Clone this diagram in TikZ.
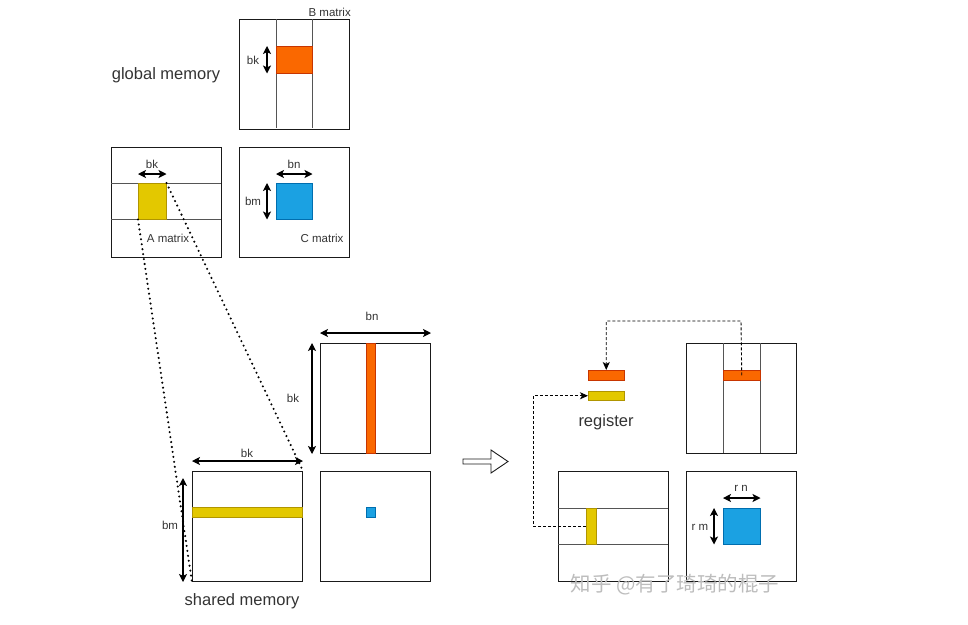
\documentclass[tikz,border=0pt]{standalone}
\usepackage{fontspec}
\setmainfont{Liberation Sans}
\newfontfamily\cjk{Noto Sans CJK SC}
\usepackage{xcolor}
\usepackage{tikz}
\usetikzlibrary{calc,arrows.meta}
\definecolor{line}{HTML}{1A1A1A}
\definecolor{inner}{HTML}{555555}
\definecolor{txt}{HTML}{333333}
\definecolor{orng}{HTML}{FA6800}
\definecolor{orngb}{HTML}{C73500}
\definecolor{yell}{HTML}{E3C800}
\definecolor{yellb}{HTML}{B09500}
\definecolor{blu}{HTML}{1BA1E2}
\definecolor{blub}{HTML}{006EAF}
\definecolor{wm}{HTML}{BDBDBD}
\tikzset{
  mat/.style={draw=line, line width=1pt, minimum width=110pt, minimum height=110pt, inner sep=0pt, anchor=north west},
  sep/.style={draw=inner, line width=1pt},
  orstrip/.style={draw=orngb, fill=orng, line width=0.5pt, inner sep=0pt, anchor=north west},
  yestrip/.style={draw=yellb, fill=yell, line width=0.5pt, inner sep=0pt, anchor=north west},
  blstrip/.style={draw=blub, fill=blu, line width=0.5pt, inner sep=0pt, anchor=north west},
  dim/.style={draw=black, line width=1.1pt, {Stealth[length=8pt,width=8pt,inset=2pt]}-{Stealth[length=8pt,width=8pt,inset=2pt]}},
  dotline/.style={draw=black, line width=2.3pt, line cap=round, dash pattern=on 0pt off 5pt},
  dashl/.style={draw=black, line width=0.9pt, dash pattern=on 3pt off 2pt, -{Stealth[length=8pt,width=7pt,inset=2pt]}},
  lab/.style={text=txt, font=\fontsize{11.5}{12}\selectfont, inner sep=1pt},
  big/.style={text=txt, font=\fontsize{16.5}{18}\selectfont, inner sep=1pt}
}
\begin{document}
\begin{tikzpicture}[x=1pt,y=-1pt]
  \useasboundingbox (0,0) rectangle (968,624);
  % global memory
  \node[big] (glob) at (166,75) {global memory};
  \node[mat] (gB) at (239,19) {};
  \draw[sep] (276,19) -- (276,128);
  \draw[sep] (312,19) -- (312,128);
  \node[orstrip, minimum width=36pt, minimum height=27pt] (gBo) at (276,46) {};
  \node[lab, anchor=south east] (gBl) at ([xshift=2pt,yshift=1pt]gB.north east) {B matrix};
  \draw[dim] ([xshift=-9pt]gBo.north west) -- ([xshift=-9pt]gBo.south west);
  \node[lab] at (253,60) {bk};

  \node[mat] (gA) at (111,147) {};
  \draw[sep] (111,183) -- (221,183);
  \draw[sep] (111,219) -- (221,219);
  \node[yestrip, minimum width=28pt, minimum height=36pt] (gAy) at (138,183) {};
  \draw[dim] ([yshift=9pt]gAy.north west) -- ([yshift=9pt]gAy.north east);
  \node[lab] at (152,164) {bk};
  \node[lab] at (168,238) {A matrix};

  \node[mat] (gC) at (239,147) {};
  \node[blstrip, minimum width=36pt, minimum height=36pt] (gCb) at (276,183) {};
  \draw[dim] ([yshift=9pt]gCb.north west) -- ([yshift=9pt]gCb.north east);
  \draw[dim] ([xshift=-9pt]gCb.north west) -- ([xshift=-9pt]gCb.south west);
  \node[lab] at (294,164) {bn};
  \node[lab] at (253,201) {bm};
  \node[lab] at (322,238) {C matrix};

  % shared memory
  \node[mat] (sB) at (320,343) {};
  \node[orstrip, minimum width=9pt, minimum height=110pt] (sBo) at (366,343) {};
  \draw[dim] ([yshift=10pt]sB.north west) -- ([yshift=10pt]sB.north east);
  \draw[dim] ([xshift=-8pt]sB.north west) -- ([xshift=-8pt]sB.south west);
  \node[lab] at (372,316) {bn};
  \node[lab] at (293,398) {bk};

  \node[mat] (sA) at (192,471) {};
  \node[yestrip, minimum width=110pt, minimum height=10pt] (sAy) at (192,507) {};
  \draw[dim] ([yshift=10pt]sA.north west) -- ([yshift=10pt]sA.north east);
  \draw[dim] ([xshift=-9pt,yshift=-7pt]sA.north west) -- ([xshift=-9pt]sA.south west);
  \node[lab] at (247,453) {bk};
  \node[lab] at (170,525) {bm};

  \node[mat] (sC) at (320,471) {};
  \node[blstrip, minimum width=9pt, minimum height=10pt] (sCb) at (366,507) {};
  \node[big] (shm) at (242,601) {shared memory};

  % dotted projection
  \draw[dotline] (gAy.south west) -- (sA.south west);
  \draw[dotline] (gAy.north east) -- (sA.north east);

  % hollow arrow
  \draw[draw=line, line width=0.9pt, fill=white] (463,459) -- (491,459) -- (491,450) -- (508,461.5) -- (491,473) -- (491,464) -- (463,464) -- cycle;

  % register level
  \node[mat] (rB) at (686,343) {};
  \draw[sep] (723,343) -- (723,453);
  \draw[sep] (760,343) -- (760,453);
  \node[orstrip, minimum width=37pt, minimum height=10pt] (rBo) at (723,370) {};

  \node[mat] (rA) at (558,471) {};
  \draw[sep] (558,508) -- (668,508);
  \draw[sep] (558,544) -- (668,544);
  \node[yestrip, minimum width=10pt, minimum height=36pt] (rAy) at (586,508) {};

  \node[mat] (rC) at (686,471) {};
  \node[blstrip, minimum width=37pt, minimum height=36pt] (rCb) at (723,508) {};
  \draw[dim] ([yshift=10pt]rCb.north west) -- ([yshift=10pt]rCb.north east);
  \draw[dim] ([xshift=-9pt]rCb.north west) -- ([xshift=-9pt]rCb.south west);
  \node[lab] at (741,488) {r n};
  \node[lab] at (700,527) {r m};

  \node[orstrip, minimum width=36pt, minimum height=10pt] (regO) at (588,370) {};
  \node[yestrip, minimum width=36pt, minimum height=9pt] (regY) at (588,391) {};
  \node[big] (reg) at (606,422) {register};

  % loads into registers
  \coordinate (c1) at (741,321);
  \coordinate (c2) at (533,526);
  \draw[dashl] (rBo.center) -- (c1) -| (regO.north);
  \draw[dashl] (rAy.west |- c2) -- (c2) |- (regY.west);

  % watermark
  \node[text=wm, font=\cjk\fontsize{20.5}{22}\selectfont, inner sep=0pt] (wmk) at (675,585) {知乎 @有了琦琦的棍子};
\end{tikzpicture}
\end{document}
